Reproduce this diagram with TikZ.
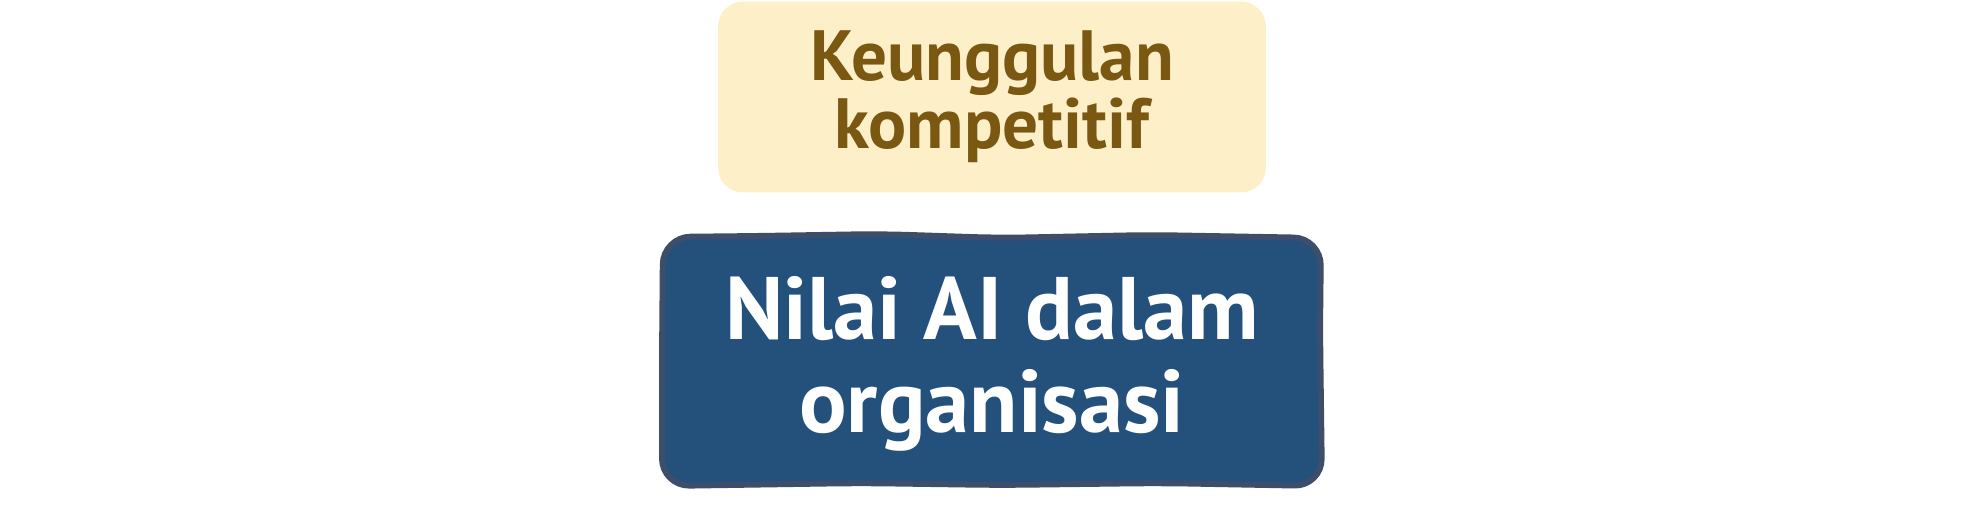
\documentclass[tikz,border=0pt]{standalone}
\usepackage{fontspec}
\setmainfont[Ligatures=NoCommon]{PT Sans}
\definecolor{goalfill}{HTML}{FDF0C9}
\definecolor{goaltext}{HTML}{7A5812}
\definecolor{corefill}{HTML}{24507C}
\definecolor{coreline}{HTML}{3C4E6A}
\begin{document}
\begin{tikzpicture}[x=0.02cm, y=-0.02cm,
   goalbox/.style={fill=goalfill, rounded corners=0.5cm, align=center,
      text=goaltext, minimum width=10.96cm, minimum height=3.82cm,
      font=\bfseries\fontsize{40.5}{38.5}\selectfont},
   corebox/.style={align=center, text=white,
      font=\bfseries\fontsize{50.5}{53}\selectfont},
   wobble/.style={fill=corefill, draw=coreline, line width=3.4pt,
      rounded corners=0.55cm}]
   \useasboundingbox (0,0) rectangle (1969,528);
   \node[goalbox] (goal) at (992,97) {Keunggulan\\kompetitif};
   % hand-drawn outline of the lower box
   \draw[wobble] (662,360) -- (663,237) -- (760,236) -- (880,234)
      -- (1000,238) -- (1150,235) -- (1321,238) -- (1320,330)
      -- (1322,486) -- (1160,483) -- (1000,485) -- (860,483)
      -- (662,486) -- cycle;
   \node[corebox] (core) at (992,364) {Nilai AI dalam\\organisasi};
  \end{tikzpicture}
\end{document}
